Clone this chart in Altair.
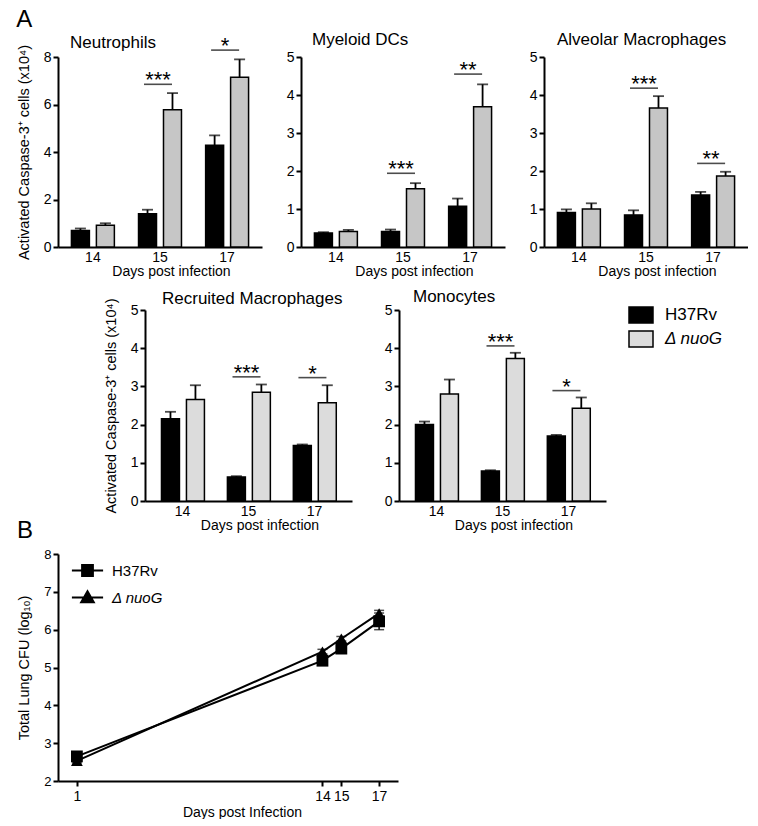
import altair as alt
import pandas as pd

FONT = "Liberation Sans"
days = ["14", "15", "17"]
strains = ["H37Rv", "ΔnuoG"]
sig_days = ["15", "17"]

# Neutrophils
neut_h37 = [0.70, 1.40, 4.28]
neut_h37_err = [0.08, 0.17, 0.42]
neut_nuo = [0.92, 5.78, 7.15]
neut_nuo_err = [0.08, 0.70, 0.75]
neut_sig_y = [6.85, 8.29]
neut_sig = ["***", "*"]

# Myeloid DCs
mdc_h37 = [0.37, 0.41, 1.075]
mdc_h37_err = [0.02, 0.05, 0.20]
mdc_nuo = [0.41, 1.53, 3.69]
mdc_nuo_err = [0.04, 0.15, 0.59]
mdc_sig_y = [1.94, 4.55]
mdc_sig = ["***", "**"]

# Alveolar Macrophages
alv_h37 = [0.91, 0.845, 1.37]
alv_h37_err = [0.08, 0.12, 0.08]
alv_nuo = [1.00, 3.66, 1.87]
alv_nuo_err = [0.15, 0.31, 0.11]
alv_sig_y = [4.18, 2.20]
alv_sig = ["***", "**"]

# Recruited Macrophages
rec_h37 = [2.155, 0.63, 1.45]
rec_h37_err = [0.18, 0.02, 0.03]
rec_nuo = [2.66, 2.85, 2.57]
rec_nuo_err = [0.37, 0.20, 0.46]
rec_sig_y = [3.25, 3.23]
rec_sig = ["***", "*"]

# Monocytes
mono_h37 = [2.00, 0.785, 1.70]
mono_h37_err = [0.08, 0.02, 0.03]
mono_nuo = [2.80, 3.73, 2.43]
mono_nuo_err = [0.38, 0.15, 0.28]
mono_sig_y = [4.06, 2.89]
mono_sig = ["***", "*"]

# Panel B: lung CFU
cfu_days = [1, 14, 15, 17]
cfu_h37 = [2.65, 5.18, 5.50, 6.22]
cfu_h37_err = [0.05, 0.08, 0.07, 0.22]
cfu_nuo = [2.53, 5.42, 5.76, 6.43]
cfu_nuo_err = [0.05, 0.06, 0.06, 0.08]

YTITLE = "Activated Caspase-3⁺ cells (x10⁴)"
ITALIC_SIG = "datum.value === 'ΔnuoG' ? 'italic' : 'normal'"
LABEL_EXPR = "datum.value === 'ΔnuoG' ? 'Δ nuoG' : datum.label"
SHAPE_SIG = ("datum.value === 'H37Rv' ? 'M-2.6,0H2.6M-0.9,-0.9H0.9V0.9H-0.9Z' "
             ": 'M-2.6,0H2.6M0,-1.05L1.05,0.8H-1.05Z'")


def bar_panel(title, h, he, n, ne, sy, st, ymax, ticks, width, height, grey,
              ytitle, title_dx, title_off, p_in, p_out, legend=None):
    rows = []
    for i, d in enumerate(days):
        rows.append({"day": d, "strain": strains[0], "mean": h[i], "upper": h[i] + he[i]})
        rows.append({"day": d, "strain": strains[1], "mean": n[i], "upper": n[i] + ne[i]})
    df = pd.DataFrame(rows)
    sdf = pd.DataFrame({"day": sig_days, "y": sy, "label": st})

    xscale = alt.Scale(domain=days, paddingInner=p_in, paddingOuter=p_out)
    x = alt.X("day:N", scale=xscale,
              axis=alt.Axis(title="Days post infection", labelAngle=0, ticks=False,
                            labelPadding=3, titlePadding=0, titleX=width / 2 + 11,
                            labelFontSize=14, titleFontSize=14))
    xo = alt.XOffset("strain:N", scale=alt.Scale(domain=strains, paddingInner=0.28, paddingOuter=0))
    yscale = alt.Scale(domain=[0, ymax], nice=False)

    def yenc(field):
        return alt.Y(field, scale=yscale,
                     axis=alt.Axis(values=ticks, title=ytitle if ytitle else None,
                                   titlePadding=12, titleFontSize=14.5, labelFontSize=14,
                                   tickSize=5, labelPadding=2, labelOverlap=False,
                                   tickCount=len(ticks)))

    base = alt.Chart(df)
    bars = base.mark_bar(stroke="black", strokeWidth=1.5).encode(
        x=x, xOffset=xo, y=yenc("mean:Q"),
        color=alt.Color("strain:N", scale=alt.Scale(domain=strains, range=["black", grey]),
                        legend=legend))
    err = base.mark_rule(color="black", strokeWidth=1.8).encode(
        x=x, xOffset=xo, y=yenc("mean:Q"), y2="upper:Q")
    cap = base.mark_tick(color="black", orient="horizontal", size=11, thickness=1.8).encode(
        x=x, xOffset=xo, y=yenc("upper:Q"))
    sline = alt.Chart(sdf).mark_tick(color="black", orient="horizontal", size=28,
                                      thickness=1.6, xOffset=-2).encode(x=x, y=yenc("y:Q"))
    stext = alt.Chart(sdf).mark_text(fontSize=22, baseline="alphabetic", dy=3, xOffset=-2,
                                      color="black", font=FONT).encode(
        x=x, y=yenc("y:Q"), text="label:N")
    return alt.layer(bars, err, cap, sline, stext).properties(
        width=width, height=height,
        title=alt.Title(title, anchor="start", frame="group", dx=title_dx, fontSize=17,
                        fontWeight="normal", font=FONT, offset=title_off, color="black"))


p1 = bar_panel("Neutrophils", neut_h37, neut_h37_err, neut_nuo, neut_nuo_err, neut_sig_y,
               neut_sig, 8, [0, 2, 4, 6, 8], 204, 190, "#c6c6c6", YTITLE, 12, -17, 0.36, 0.2)
p2 = bar_panel("Myeloid DCs", mdc_h37, mdc_h37_err, mdc_nuo, mdc_nuo_err, mdc_sig_y,
               mdc_sig, 5, [0, 1, 2, 3, 4, 5], 204, 190, "#c6c6c6", None, 11, 1, 0.36, 0.2)
p3 = bar_panel("Alveolar Macrophages", alv_h37, alv_h37_err, alv_nuo, alv_nuo_err, alv_sig_y,
               alv_sig, 5, [0, 1, 2, 3, 4, 5], 204, 190, "#c6c6c6", None, 13, 1, 0.36, 0.2)

legendA = alt.Legend(title=None, orient="none", legendX=231, legendY=-6,
                     symbolType="M-1.2,-0.8H1.2V0.8H-1.2Z", symbolSize=400,
                     symbolStrokeColor="black", symbolStrokeWidth=1.5, symbolOpacity=1,
                     labelFontSize=17, labelFont=FONT, labelColor="black", labelOffset=13,
                     rowPadding=2, padding=0, labelExpr=LABEL_EXPR,
                     labelFontStyle=alt.ExprRef(ITALIC_SIG))

p4 = bar_panel("Recruited Macrophages", rec_h37, rec_h37_err, rec_nuo, rec_nuo_err, rec_sig_y,
               rec_sig, 5, [0, 1, 2, 3, 4, 5], 207, 191, "#dcdcdc", YTITLE, 17, -10, 0.36, 0.25)
p5 = bar_panel("Monocytes", mono_h37, mono_h37_err, mono_nuo, mono_nuo_err, mono_sig_y,
               mono_sig, 5, [0, 1, 2, 3, 4, 5], 207, 191, "#dcdcdc", None, 14, -3, 0.36, 0.25,
               legend=legendA)

spacer = alt.Chart(pd.DataFrame({"v": [0]})).mark_rect(opacity=0).encode(
    x=alt.value(0), x2=alt.value(40), y=alt.value(0), y2=alt.value(1)
).properties(width=40, height=191,
             title=alt.Title("B", orient="bottom", anchor="start", fontSize=24,
                             fontWeight="normal", font=FONT, dx=-41, offset=18, color="black"))

# Panel B
rowsB = []
for i, d in enumerate(cfu_days):
    rowsB.append({"day": d, "strain": strains[0], "marker": "m_" + strains[0], "value": cfu_h37[i],
                  "lo": cfu_h37[i] - cfu_h37_err[i], "hi": cfu_h37[i] + cfu_h37_err[i]})
    rowsB.append({"day": d, "strain": strains[1], "marker": "m_" + strains[1], "value": cfu_nuo[i],
                  "lo": cfu_nuo[i] - cfu_nuo_err[i], "hi": cfu_nuo[i] + cfu_nuo_err[i]})
dfB = pd.DataFrame(rowsB)
WB, HB = 340, 227
xB = alt.X("day:Q", scale=alt.Scale(domain=[0, 18], nice=False),
           axis=alt.Axis(values=cfu_days, title="Days post Infection", tickSize=5,
                         labelPadding=3, titlePadding=2, titleX=WB / 2 + 14,
                         labelFontSize=14, titleFontSize=14, labelOverlap=False))
yBscale = alt.Scale(domain=[2, 8], nice=False)


def yBenc(field):
    return alt.Y(field, scale=yBscale,
                 axis=alt.Axis(values=[2, 3, 4, 5, 6, 7, 8], title="Total Lung CFU (log₁₀)",
                               tickSize=5, labelPadding=2, titlePadding=12, tickCount=7,
                               labelFontSize=13, titleFontSize=14.5, labelOverlap=False))


baseB = alt.Chart(dfB)
legendB = alt.Legend(title=None, orient="none", legendX=22, legendY=9, symbolSize=144,
                     symbolType=alt.ExprRef(SHAPE_SIG),
                     symbolStrokeColor="black", symbolStrokeWidth=2, symbolFillColor="black",
                     symbolOpacity=1,
                     labelFontSize=15, labelFont=FONT, labelColor="black", labelOffset=17,
                     rowPadding=7, padding=0, labelExpr=LABEL_EXPR,
                     labelFontStyle=alt.ExprRef(ITALIC_SIG))
lineB = baseB.mark_line(strokeWidth=2).encode(
    x=xB, y=yBenc("value:Q"), detail="strain:N",
    color=alt.Color("strain:N", scale=alt.Scale(domain=strains, range=["black", "black"]),
                    legend=legendB))
errB = baseB.mark_rule(color="black", strokeWidth=1.5).encode(x=xB, y=yBenc("lo:Q"), y2="hi:Q")
capLo = baseB.mark_tick(color="black", orient="horizontal", size=10, thickness=1.5).encode(
    x=xB, y=yBenc("lo:Q"))
capHi = baseB.mark_tick(color="black", orient="horizontal", size=10, thickness=1.5).encode(
    x=xB, y=yBenc("hi:Q"))
ptsB = baseB.mark_point(filled=True, size=140, opacity=1, color="black").encode(
    x=xB, y=yBenc("value:Q"),
    shape=alt.Shape("marker:N", scale=alt.Scale(domain=["m_" + s for s in strains],
                                                range=["square", "triangle-up"]),
                    legend=None))
pB = alt.layer(lineB, errB, capLo, capHi, ptsB).properties(width=WB, height=HB)

row1 = alt.hconcat(p1, p2, p3, spacing=39, bounds="flush",
                   title=alt.Title("A", anchor="start", fontSize=24, fontWeight="normal",
                                   font=FONT, offset=-1, color="black")).resolve_scale(color="independent")
row2 = alt.hconcat(spacer, p4, p5, spacing=47, bounds="flush").resolve_scale(color="independent")
lower = alt.vconcat(row2, pB, spacing=5).resolve_scale(color="independent", shape="independent")

chart = alt.vconcat(row1, lower, spacing=10).resolve_scale(
    color="independent", shape="independent"
).properties(padding={"left": 8, "top": 0, "right": 0, "bottom": 0}).configure(
    font=FONT).configure_view(stroke=None).configure_axis(
    domainColor="black", domainWidth=2, tickColor="black", tickWidth=2,
    labelColor="black", titleColor="black", labelFont=FONT, titleFont=FONT,
    titleFontWeight="normal", grid=False, labelOverlap=False
)

chart.save("out.html", embed_options={"renderer": "svg", "actions": False})
